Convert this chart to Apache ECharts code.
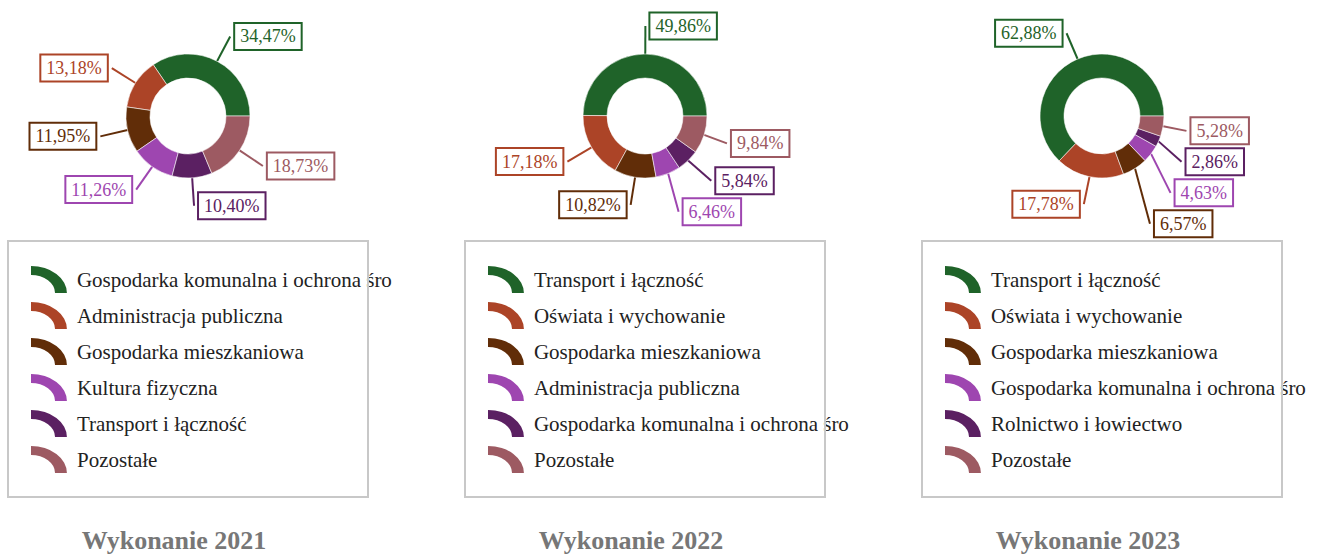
<!DOCTYPE html>
<html>
<head>
<meta charset="utf-8">
<script src="https://cdn.jsdelivr.net/npm/echarts@6/dist/echarts.min.js"></script>
<style>
  html, body { margin: 0; padding: 0; background: #fff; }
  #chart { width: 1320px; height: 554px; }
</style>
</head>
<body>
<div id="chart"></div>
<script>
// Struktura wydatków – trzy lata wykonania
const years = ['Wykonanie 2021', 'Wykonanie 2022', 'Wykonanie 2023'];

const categories2021 = ['Gospodarka komunalna i ochrona środowiska', 'Administracja publiczna', 'Gospodarka mieszkaniowa', 'Kultura fizyczna', 'Transport i łączność', 'Pozostałe'];
const values2021 = [34.47, 13.18, 11.95, 11.26, 10.40, 18.73];

const categories2022 = ['Transport i łączność', 'Oświata i wychowanie', 'Gospodarka mieszkaniowa', 'Administracja publiczna', 'Gospodarka komunalna i ochrona środowiska', 'Pozostałe'];
const values2022 = [49.86, 17.18, 10.82, 6.46, 5.84, 9.84];

const categories2023 = ['Transport i łączność', 'Oświata i wychowanie', 'Gospodarka mieszkaniowa', 'Gospodarka komunalna i ochrona środowiska', 'Rolnictwo i łowiectwo', 'Pozostałe'];
const values2023 = [62.88, 17.78, 6.57, 4.63, 2.86, 5.28];

// kolory kolejnych pozycji (jednakowe w każdym roku)
const palette = ['#1f6329', '#ac4427', '#612d08', '#9e46b0', '#5b2062', '#9d5a62'];

const panels = [
  { title: years[0], names: categories2021, values: values2021, cx: 188 },
  { title: years[1], names: categories2022, values: values2022, cx: 645 },
  { title: years[2], names: categories2023, values: values2023, cx: 1102 }
];

const serif = '"Liberation Serif", "DejaVu Serif", serif';
// ćwiartka pierścienia jako ikona legendy (proporcje 4:3)
const arcIcon = 'path://M0,0A133,100 0 0 1 133,100L89,100A89,67 0 0 0 0,33Z';
const fmt = v => v.toFixed(2).replace('.', ',') + '%';

const series = [];
const legends = [];
const graphics = [];

panels.forEach((p, i) => {
  series.push({
    type: 'pie',
    center: [p.cx, 116],
    radius: [38, 62],
    startAngle: 0,
    clockwise: false,
    avoidLabelOverlap: true,
    itemStyle: { borderColor: 'rgba(255,255,255,0.55)', borderWidth: 1 },
    label: {
      show: true,
      position: 'outside',
      formatter: prm => fmt(prm.value),
      fontFamily: serif,
      fontSize: 18,
      lineHeight: 20,
      backgroundColor: '#fff',
      borderWidth: 2,
      padding: [3, 5, 2, 5]
    },
    labelLine: { show: true, length: 28, length2: 0, lineStyle: { width: 2 } },
    emphasis: { disabled: true },
    data: p.values.map((v, k) => ({
      name: p.names[k],
      value: v,
      itemStyle: { color: palette[k] },
      label: { color: palette[k], borderColor: palette[k] },
      labelLine: { lineStyle: { color: palette[k] } }
    }))
  });

  const dx = p.cx - 188;
  legends.push({
    orient: 'vertical',
    left: 31 + dx,
    top: 266,
    padding: 0,
    itemWidth: 36,
    itemHeight: 27,
    itemGap: 9,
    icon: arcIcon,
    selectedMode: false,
    textStyle: {
      fontFamily: serif,
      fontSize: 21,
      color: '#222',
      padding: [0, 0, 0, 5],
      width: 326,
      overflow: 'truncate',
      ellipsis: ''
    },
    data: p.names.map((n, k) => ({ name: n, itemStyle: { color: palette[k], borderWidth: 0 } }))
  });

  // ramka legendy
  graphics.push({
    type: 'rect',
    z: 100,
    silent: true,
    shape: { x: 8 + dx, y: 241, width: 360, height: 256 },
    style: { fill: 'none', stroke: '#c8c8c8', lineWidth: 2 }
  });
  // podpis roku
  graphics.push({
    type: 'text',
    z: 100,
    silent: true,
    x: p.cx - 14,
    y: 540,
    style: {
      text: p.title,
      fontFamily: serif,
      fontSize: 26,
      fontWeight: 'bold',
      fill: '#777',
      align: 'center',
      verticalAlign: 'middle'
    }
  });
});

const chart = echarts.init(document.getElementById('chart'), null, { renderer: 'svg' });
chart.setOption({
  animation: false,
  backgroundColor: '#fff',
  legend: legends,
  series: series,
  graphic: graphics
});
</script>
</body>
</html>
